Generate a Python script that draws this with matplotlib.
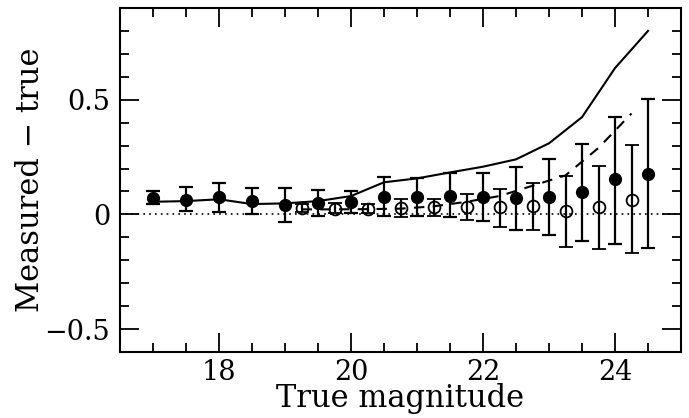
import matplotlib
matplotlib.use('Agg')
import matplotlib.pyplot as plt
import numpy as np
from matplotlib.ticker import MultipleLocator, FixedLocator

# filled points: bright sample
mag_filled = [17.0, 17.5, 18.0, 18.5, 19.0, 19.5, 20.0, 20.5, 21.0, 21.5,
              22.0, 22.5, 23.0, 23.5, 24.0, 24.5]
dy_filled = [0.073, 0.062, 0.074, 0.058, 0.042, 0.048, 0.052, 0.077, 0.077, 0.081,
             0.077, 0.070, 0.077, 0.096, 0.153, 0.176]
top_filled = [0.103, 0.120, 0.137, 0.116, 0.113, 0.106, 0.100, 0.162, 0.157, 0.179,
              0.179, 0.208, 0.240, 0.307, 0.426, 0.502]
bot_filled = [0.044, 0.013, 0.009, 0.000, -0.032, -0.006, 0.004, -0.007, -0.007, -0.013,
              -0.028, -0.069, -0.090, -0.115, -0.127, -0.148]

# open points
mag_open = [19.25, 19.75, 20.25, 20.75, 21.25, 21.75, 22.25, 22.75, 23.25, 23.75, 24.25]
dy_open = [0.026, 0.023, 0.025, 0.026, 0.031, 0.033, 0.031, 0.036, 0.016, 0.031, 0.062]
top_open = [0.044, 0.048, 0.045, 0.065, 0.065, 0.089, 0.112, 0.138, 0.169, 0.212, 0.303]
bot_open = [0.009, 0.004, 0.006, -0.013, -0.006, -0.026, -0.054, -0.066, -0.141, -0.152, -0.170]

# curves
solid_y = [0.055, 0.058, 0.066, 0.045, 0.048, 0.058, 0.080, 0.140, 0.157, 0.183,
           0.208, 0.240, 0.310, 0.424, 0.638, 0.800]
dashed_y = [0.022, 0.022, 0.023, 0.025, 0.035, 0.055, 0.080, 0.125, 0.170, 0.290, 0.440]

plt.rcParams['font.family'] = ['DejaVu Serif']

fig = plt.figure(figsize=(6.89, 4.18), dpi=100)
ax = fig.add_axes([120 / 689, 1 - 352 / 418, 561 / 689, 344 / 418])

ax.axhline(0, color='black', linestyle=(0, (1, 2.5)), linewidth=1.2)
ax.plot(mag_filled, solid_y, color='black', linewidth=1.5)
ax.plot(mag_open, dashed_y, color='black', linewidth=1.5, linestyle=(0, (5, 4)))

yf = np.array(dy_filled)
ax.errorbar(mag_filled, yf, yerr=[yf - np.array(bot_filled), np.array(top_filled) - yf],
            fmt='o', color='black', markersize=8.5, elinewidth=1.6,
            capsize=5, capthick=1.6)
yo = np.array(dy_open)
ax.errorbar(mag_open, yo, yerr=[yo - np.array(bot_open), np.array(top_open) - yo],
            fmt='o', color='black', markerfacecolor='none', markersize=8.5,
            markeredgewidth=1.3, elinewidth=1.6, capsize=5, capthick=1.6)

ax.set_xlim(16.5, 25)
ax.set_ylim(-0.6, 0.9)
ax.xaxis.set_major_locator(FixedLocator([18, 20, 22, 24]))
ax.xaxis.set_minor_locator(MultipleLocator(0.5))
ax.yaxis.set_major_locator(FixedLocator([-0.5, 0, 0.5]))
ax.yaxis.set_minor_locator(MultipleLocator(0.1))
ax.set_yticklabels(['\u22120.5', '0', '0.5'])

ax.tick_params(which='both', direction='in', top=True, right=True, width=1.3,
               labelsize=19.5, colors='black')
ax.tick_params(which='major', length=14)
ax.tick_params(axis='x', which='major', pad=5)
ax.tick_params(axis='y', which='major', pad=7)
ax.tick_params(which='minor', length=6.5)
for s in ax.spines.values():
    s.set_linewidth(1.5)

ax.set_xlabel('True magnitude', fontsize=22, labelpad=-2)
ax.set_ylabel('Measured \u2212 true', fontsize=22, labelpad=-1)

fig.savefig('out.png', dpi=100)
